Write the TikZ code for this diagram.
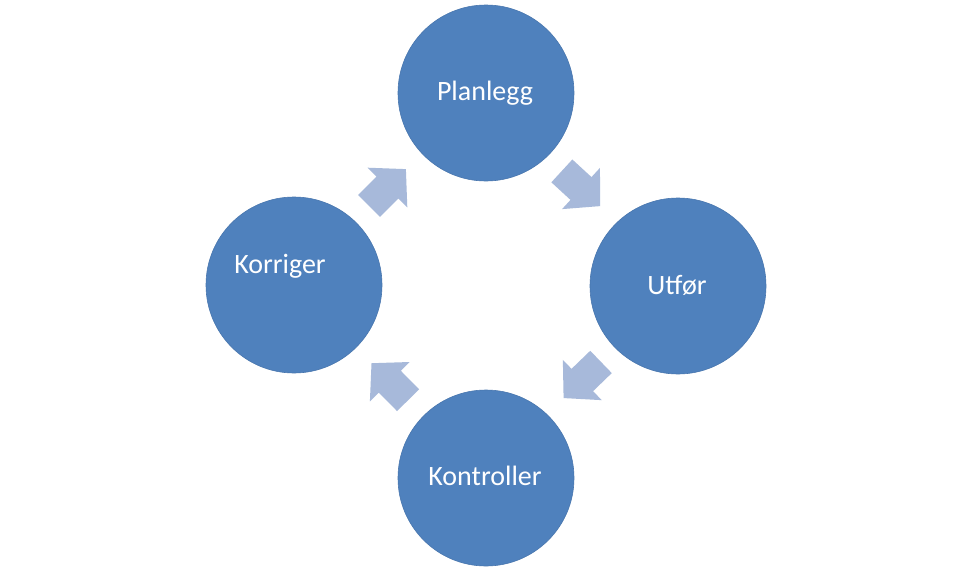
\documentclass[tikz,border=0pt]{standalone}
\usepackage{fontspec}
\setmainfont{Carlito}
\definecolor{circfill}{RGB}{79,129,189}
\definecolor{circline}{RGB}{72,118,174}
\definecolor{arrowfill}{RGB}{167,185,218}
\tikzset{
  stage/.style={circle, fill=circfill, draw=circline, line width=0.6pt, minimum size=176pt, inner sep=0pt},
  stagetext/.style={anchor=base, text=white, font=\fontsize{28}{34}\selectfont, inner sep=0pt},
  blockarrow/.pic={\fill[arrowfill] (-26,-15.5) -- (0,-15.5) -- (0,-28) -- (26,0) -- (0,28) -- (0,15.5) -- (-26,15.5) -- cycle;}
}
\begin{document}
\begin{tikzpicture}[x=1pt,y=-1pt]
\useasboundingbox[fill=white] (0,0) rectangle (970,571);
\node[stage] (plan) at (486,93) {};
\node[stage] (utfor) at (678,286) {};
\node[stage] (kontr) at (486,478) {};
\node[stage] (korr) at (294,285) {};
\node[stagetext] (tplan) at (485,100) {Planlegg};
\node[stagetext] (tutfor) at (677,294) {Utfør};
\node[stagetext] (tkontr) at (485,485) {Kontroller};
\node[stagetext] (tkorr) at (280,273) {Korriger};
\pic[rotate=-42.6] (a1) at (581,188.5) {blockarrow};
\pic[rotate=-136] (a2) at (582.3,380) {blockarrow};
\pic[rotate=134.7] (a3) at (389.8,381.7) {blockarrow};
\pic[rotate=45] (a4) at (387.5,187.5) {blockarrow};
\end{tikzpicture}
\end{document}
